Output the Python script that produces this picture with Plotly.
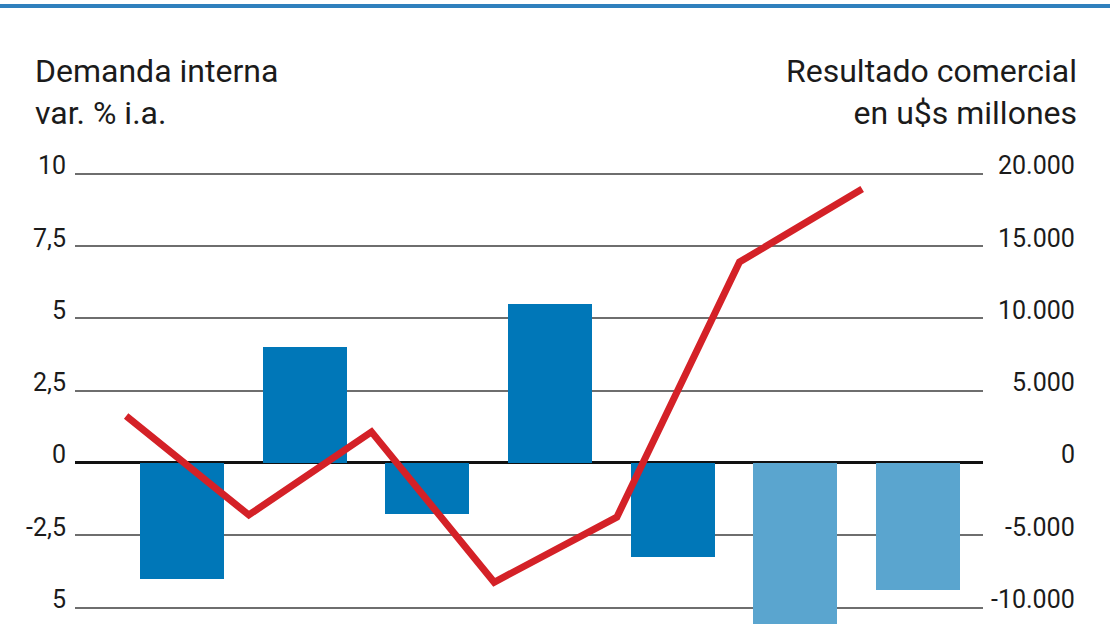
"""
Demanda interna (barras, var. % i.a.) vs resultado comercial (linea, u$s millones).
"""
import plotly.graph_objects as go

# datos
periodos = ["P1", "P2", "P3", "P4", "P5", "P6", "P7"]
demanda_var = [-4.0, 4.0, -1.75, 5.5, -3.25, -6.0, -4.4]
resultado_comercial = [3250, -3600, 2150, -8250, -3750, 13900, 18950]

# ejes
left_tickvals = [-5, -2.5, 0, 2.5, 5, 7.5, 10]
left_ticktext = ["5", "-2,5", "0", "2,5", "5", "7,5", "10"]
right_tickvals = [-10000, -5000, 0, 5000, 10000, 15000, 20000]
right_ticktext = ["-10.000", "-5.000", "0", "5.000", "10.000", "15.000", "20.000"]

DARK_BLUE = "#0077b8"
LIGHT_BLUE = "#5aa5cf"
RED = "#d42127"
TEXT = "#1b1b1b"
FONT = "Roboto"

bar_colors = [DARK_BLUE] * 5 + [LIGHT_BLUE] * 2

W, H = 1110, 624
M_L, M_R, M_T, M_B = 75, 127, 160, 0
PW = W - M_L - M_R
PH = H - M_T - M_B


def px_x(p):
    return (p - M_L) / PW


def px_y(p):
    return (H - M_B - p) / PH


X_RANGE = [-0.872, 6.53]
LINE_SHIFT = 0.455

fig = go.Figure()
fig.add_trace(
    go.Bar(
        x=list(range(len(periodos))),
        y=demanda_var,
        marker=dict(color=bar_colors, line=dict(width=0)),
        width=0.685,
        hovertext=periodos,
        showlegend=False,
    )
)
fig.add_trace(
    go.Scatter(
        x=list(range(len(periodos))),
        y=resultado_comercial,
        mode="lines",
        line=dict(color=RED, width=7),
        xaxis="x2",
        yaxis="y2",
        hovertext=periodos,
        showlegend=False,
    )
)

fig.update_layout(
    width=W,
    height=H,
    margin=dict(l=M_L, r=M_R, t=M_T, b=M_B),
    plot_bgcolor="white",
    paper_bgcolor="white",
    font=dict(family=FONT, color=TEXT),
    bargap=0,
    xaxis=dict(range=X_RANGE, visible=False, fixedrange=True),
    xaxis2=dict(
        range=[X_RANGE[0] + LINE_SHIFT, X_RANGE[1] + LINE_SHIFT],
        overlaying="x",
        visible=False,
    ),
    yaxis=dict(
        range=[-5.57, 10.48],
        tickvals=left_tickvals,
        showticklabels=False,
        ticks="",
        showgrid=True,
        gridcolor="#6e6e6e",
        gridwidth=1.5,
        zeroline=True,
        zerolinecolor="#111111",
        zerolinewidth=2.5,
        showline=False,
    ),
    yaxis2=dict(
        range=[-11140, 20960],
        overlaying="y",
        side="right",
        showgrid=False,
        zeroline=False,
        showticklabels=False,
    ),
)

# etiquetas de los ejes, alineadas a la derecha y apoyadas sobre la grilla
for v, t in zip(left_tickvals, left_ticktext):
    fig.add_annotation(
        x=px_x(68), xref="paper", xanchor="right",
        y=v, yref="y", yanchor="middle", yshift=8,
        text=t, showarrow=False,
        font=dict(size=25, color=TEXT, family=FONT),
    )
for v, t in zip(right_tickvals, right_ticktext):
    fig.add_annotation(
        x=px_x(1077), xref="paper", xanchor="right",
        y=v, yref="y2", yanchor="middle", yshift=8,
        text=t, showarrow=False,
        font=dict(size=25, color=TEXT, family=FONT),
    )

# titulos de ejes
fig.add_annotation(
    x=px_x(33), xref="paper", xanchor="left", align="left",
    y=px_y(50), yref="paper", yanchor="top",
    text="Demanda interna<br>var. % i.a.", showarrow=False,
    font=dict(size=32, color=TEXT, family=FONT),
)
fig.add_annotation(
    x=px_x(1079), xref="paper", xanchor="right", align="right",
    y=px_y(50), yref="paper", yanchor="top",
    text="Resultado comercial<br>en u$s millones", showarrow=False,
    font=dict(size=32, color=TEXT, family=FONT),
)

# linea azul superior
fig.add_shape(
    type="line", xref="paper", yref="paper",
    x0=px_x(0), x1=px_x(W), y0=px_y(6), y1=px_y(6),
    line=dict(color="#2f80bd", width=4),
)

fig.write_html(
    "out.html",
    config={"displayModeBar": False},
    post_script="document.body.style.margin='0px';",
)
